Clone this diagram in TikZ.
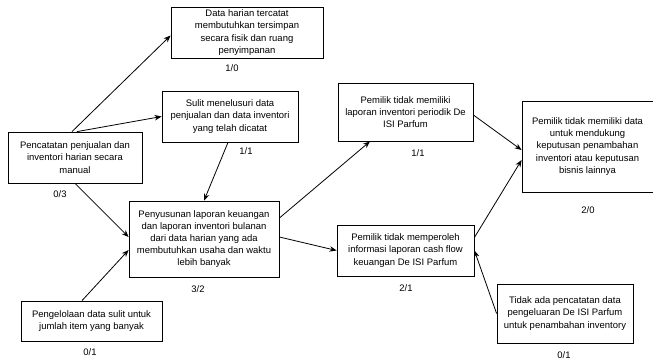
\documentclass[tikz,border=0pt]{standalone}
\usepackage{fontspec}
\setmainfont{Liberation Sans}
\usetikzlibrary{arrows.meta}
\tikzset{
  box/.style={draw, line width=0.8bp, align=center, inner sep=1bp,
    font=\fontsize{9.5}{12.2}\selectfont},
  score/.style={font=\fontsize{9.5}{11}\selectfont, inner sep=0pt},
}
\begin{document}
\begin{tikzpicture}[>={Stealth[length=7bp,width=5.5bp]}, x=1bp, y=-1bp, line width=0.8bp]
\useasboundingbox (0,0) rectangle (653,361);
% kotak masalah
\node[box, minimum width=152bp, minimum height=51bp] (a) at (247,32.5)
  {Data harian tercatat\\membutuhkan tersimpan\\secara fisik dan ruang\\penyimpanan};
\node[box, minimum width=136bp, minimum height=51bp] (b) at (230,116.5)
  {Sulit menelusuri data\\penjualan dan data inventori\\yang telah dicatat};
\node[box, minimum width=134bp, minimum height=51bp] (c) at (75,157.5)
  {Pencatatan penjualan dan\\inventori harian secara\\manual};
\node[box, minimum width=150bp, minimum height=76bp] (d) at (204,239)
  {Penyusunan laporan keuangan\\dan laporan inventori bulanan\\dari data harian yang ada\\membutuhkan usaha dan waktu\\lebih banyak};
\node[box, minimum width=141bp, minimum height=40bp] (e) at (91.5,321)
  {Pengelolaan data sulit untuk\\jumlah item yang banyak};
\node[box, minimum width=135bp, minimum height=58bp] (f) at (405.5,112)
  {Pemilik tidak memiliki\\laporan inventori periodik De\\ISI Parfum};
\node[box, minimum width=131bp, minimum height=91bp] (g) at (587.5,146.5)
  {Pemilik tidak memiliki data\\untuk mendukung\\keputusan penambahan\\inventori atau keputusan\\bisnis lainnya};
\node[box, minimum width=137bp, minimum height=51bp] (h) at (405.5,250.5)
  {Pemilik tidak memperoleh\\informasi laporan cash flow\\keuangan De ISI Parfum};
\node[box, minimum width=136bp, minimum height=59bp] (i) at (565,313.5)
  {Tidak ada pencatatan data\\pengeluaran De ISI Parfum\\untuk penambahan inventory};
% skor
\node[score] (sa) at (232,68) {1/0};
\node[score] (sb) at (246,151) {1/1};
\node[score] (sc) at (60,194) {0/3};
\node[score] (sd) at (198,289) {3/2};
\node[score] (se) at (90,352) {0/1};
\node[score] (sf) at (418,153) {1/1};
\node[score] (sg) at (588,210) {2/0};
\node[score] (sh) at (406,288) {2/1};
\node[score] (si) at (564,355) {0/1};
% panah
\draw[->] ([xshift=-3bp]c.north) -- ([yshift=-3bp]a.west);
\draw[->] ([xshift=2bp]c.north) -- (b.west);
\draw[->] ([xshift=-2bp]b.south) -- (d.north);
\draw[->] (c.south) -- ([yshift=2bp]d.west);
\draw[->] ([xshift=-9.5bp]e.north) -- ([yshift=-11bp]d.west);
\draw[->] ([yshift=21bp]d.east) -- ([xshift=-35.5bp]f.south);
\draw[->] ([yshift=2bp]d.east) -- (h.west);
\draw[->] ([yshift=-3bp]f.east) -- ([yshift=-3.5bp]g.west);
\draw[->] ([yshift=13bp]h.east) -- ([yshift=-13.5bp]g.west);
\draw[->] (i.west) -- (h.east);
\end{tikzpicture}
\end{document}
